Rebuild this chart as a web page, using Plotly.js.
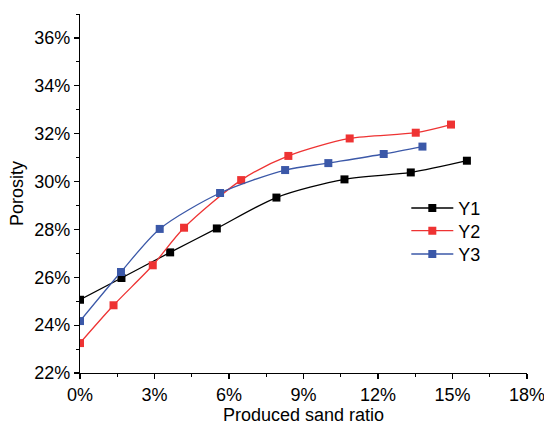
<!DOCTYPE html>
<html>
<head>
<meta charset="utf-8">
<script src="https://cdn.plot.ly/plotly-3.0.1.min.js"></script>
<style>
html,body{margin:0;padding:0;background:#fff}
#chart{width:544px;height:428px}
</style>
</head>
<body>
<div id="chart"></div>
<script>
// Produced sand ratio (%) and porosity (%) per series
const y1X = [0, 1.67, 3.63, 5.51, 7.91, 10.65, 13.32, 15.58];
const y1Y = [25.06, 25.97, 27.04, 28.04, 29.33, 30.09, 30.38, 30.87];
const y2X = [0, 1.35, 2.93, 4.19, 6.49, 8.39, 10.86, 13.52, 14.94];
const y2Y = [23.25, 24.83, 26.50, 28.07, 30.06, 31.07, 31.80, 32.04, 32.38];
const y3X = [0, 1.65, 3.21, 5.64, 8.26, 10.0, 12.23, 13.79];
const y3Y = [24.17, 26.22, 28.02, 29.52, 30.48, 30.77, 31.15, 31.46];
const seriesNames = ["Y1", "Y2", "Y3"];
const xTickVals = [0, 3, 6, 9, 12, 15, 18];
const xTickText = ["0%", "3%", "6%", "9%", "12%", "15%", "18%"];
const yTickVals = [22, 24, 26, 28, 30, 32, 34, 36];
const yTickText = ["22%", "24%", "26%", "28%", "30%", "32%", "34%", "36%"];

const colors = ["#000000", "#EE3333", "#3B58A8"];
const xs = [y1X, y2X, y3X];
const ys = [y1Y, y2Y, y3Y];
const legendIds = ["legend", "legend2", "legend3"];
const traces = seriesNames.map((n, i) => ({
  x: xs[i], y: ys[i], name: n, type: "scatter", mode: "lines+markers",
  legend: legendIds[i],
  line: {color: colors[i], width: 1.3, shape: "spline", smoothing: 0.8},
  marker: {symbol: "square", size: 8, color: colors[i]}
}));

const font = {family: "Liberation Sans, Arial, sans-serif", size: 18, color: "#000"};
const legendY = [0.4588, 0.3955, 0.3306];
function legendCfg(y) {
  return {x: 0.73, y: y, xanchor: "left", yanchor: "middle", bgcolor: "rgba(0,0,0,0)",
          font: font, itemwidth: 42, borderwidth: 0};
}
const layout = {
  width: 544, height: 428,
  margin: {l: 79.5, r: 17, t: 14, b: 55},
  paper_bgcolor: "#fff", plot_bgcolor: "#fff",
  font: font,
  showlegend: true,
  legend: legendCfg(legendY[0]),
  legend2: legendCfg(legendY[1]),
  legend3: legendCfg(legendY[2]),
  xaxis: {
    range: [0, 18], tickvals: xTickVals, ticktext: xTickText,
    ticklabeloverflow: "allow",
    showgrid: false, zeroline: false, showline: true, linecolor: "#000", linewidth: 1.2,
    ticks: "outside", ticklen: 5, tickwidth: 1.2, tickcolor: "#000",
    minor: {dtick: 1.5, tick0: 0, ticks: "outside", ticklen: 3, tickwidth: 1, tickcolor: "#000", showgrid: false},
    title: {text: "Produced sand ratio", font: font, standoff: 4},
    tickfont: font
  },
  yaxis: {
    range: [22, 37], tickvals: yTickVals, ticktext: yTickText,
    ticklabeloverflow: "allow",
    showgrid: false, zeroline: false, showline: true, linecolor: "#000", linewidth: 1.2,
    ticks: "outside", ticklen: 5, tickwidth: 1.2, tickcolor: "#000",
    minor: {dtick: 1, tick0: 22, ticks: "outside", ticklen: 3, tickwidth: 1, tickcolor: "#000", showgrid: false},
    title: {text: "Porosity", font: font, standoff: 5},
    tickfont: font
  }
};
Plotly.newPlot("chart", traces, layout, {displayModeBar: false, staticPlot: true});
</script>
</body>
</html>
